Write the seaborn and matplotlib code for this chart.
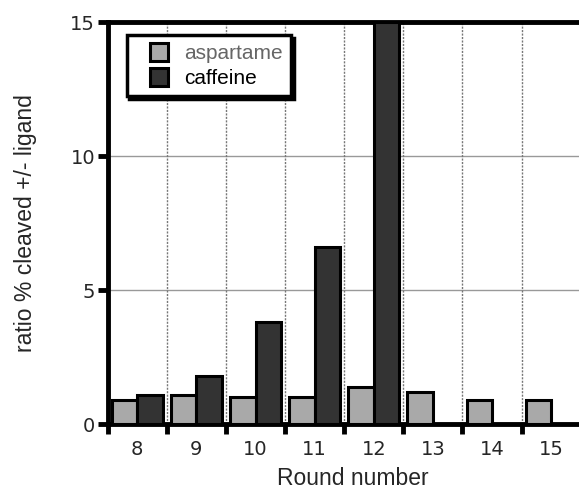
import pandas as pd
import seaborn as sns
import matplotlib.pyplot as plt
import numpy as np
from matplotlib.ticker import FixedLocator
from matplotlib.patches import Rectangle
from matplotlib.legend_handler import HandlerPatch

rounds = ['8', '9', '10', '11', '12', '13', '14', '15']
aspartame = [0.9, 1.1, 1.0, 1.0, 1.4, 1.2, 0.9, 0.9]
caffeine = [1.1, 1.8, 3.8, 6.6, 15.0, np.nan, np.nan, np.nan]

df = pd.DataFrame({
    'round': rounds * 2,
    'ratio': aspartame + caffeine,
    'ligand': ['aspartame'] * len(rounds) + ['caffeine'] * len(rounds),
})

sns.set_style('white')
plt.rcParams['font.family'] = ['Liberation Sans', 'DejaVu Sans']

fig = plt.figure(figsize=(5.79, 4.91), dpi=100)
ax = fig.add_axes([0.186, 0.136, 0.82, 0.819])

sns.barplot(data=df, x='round', y='ratio', hue='ligand', order=rounds,
            palette={'aspartame': '#a9a9a9', 'caffeine': '#333333'},
            width=0.86, edgecolor='black', linewidth=2.2, ax=ax, zorder=3)

ax.set_ylim(0, 15)
ax.set_xlim(-0.5, 7.53)
ax.set_yticks([0, 5, 10, 15])

# grid: solid horizontal, dashed vertical at group boundaries
for yv in [5, 10]:
    ax.axhline(yv, color='#999999', lw=1.0, zorder=1)
for xv in np.arange(0.5, 7.5, 1.0):
    ax.axvline(xv, color='#777777', lw=1.0, ls=(0, (1.5, 1)), zorder=1)

ax.xaxis.set_minor_locator(FixedLocator(np.arange(-0.5, 8.0, 1.0)))
ax.tick_params(which='both', bottom=True, left=True)
ax.tick_params(axis='x', which='major', length=0, labelsize=14, pad=11,
               labelfontfamily='DejaVu Sans')
ax.tick_params(axis='x', which='minor', direction='out', length=7, width=3.5, color='black')
ax.tick_params(axis='y', direction='out', length=7, width=3.5, color='black', labelsize=14, pad=2,
               labelfontfamily='DejaVu Sans')

for side in ['left', 'top', 'bottom', 'right']:
    ax.spines[side].set_linewidth(3.5)
    ax.spines[side].set_color('black')

ax.set_xlabel('Round number', fontsize=16.5)
ax.xaxis.set_label_coords(0.517, -0.106)
ax.set_ylabel('ratio % cleaved +/- ligand', fontsize=16.5)
ax.yaxis.set_label_coords(-0.149, 0.5)


def square_right(legend, orig_handle, xdescent, ydescent, width, height, fontsize):
    return Rectangle((-xdescent + width - height, -ydescent), height, height)


leg = ax.legend(loc='upper left', bbox_to_anchor=(0.04, 0.968), fontsize=15,
                frameon=True, fancybox=False, shadow={'color': 'black', 'alpha': 1},
                handlelength=1.6, handleheight=0.95, borderpad=0.4,
                labelspacing=0.2, handletextpad=0.75, borderaxespad=0,
                handler_map={Rectangle: HandlerPatch(patch_func=square_right)})
leg.get_frame().set_edgecolor('black')
leg.get_frame().set_linewidth(2.5)
for t, c in zip(leg.get_texts(), ['#666666', 'black']):
    t.set_color(c)

fig.savefig('out.png', dpi=100)
plt.close(fig)
